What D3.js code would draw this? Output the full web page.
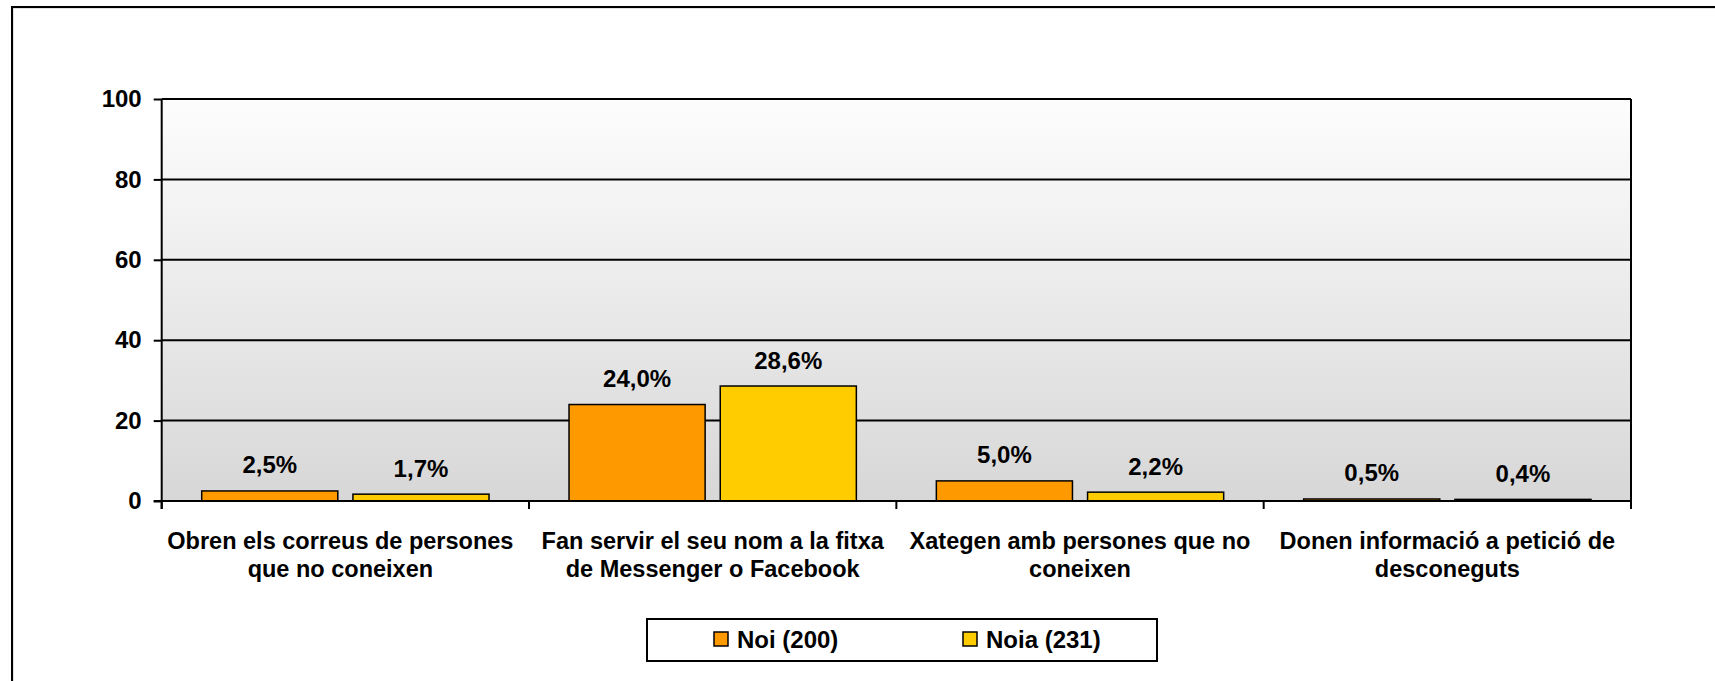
<!DOCTYPE html>
<html>
<head>
<meta charset="utf-8">
<script src="https://cdn.jsdelivr.net/npm/d3@7"></script>
<style>
  body { margin: 0; background: #fff; }
  svg text { font-family: "Liberation Sans", Arial, sans-serif; font-weight: bold; fill: #000; }
</style>
</head>
<body>
<div id="chart"></div>
<script>
// data
var categories = [
  ["Obren els correus de persones", "que no coneixen"],
  ["Fan servir el seu nom a la fitxa", "de Messenger o Facebook"],
  ["Xategen amb persones que no", "coneixen"],
  ["Donen informació a petició de", "desconeguts"]
]
var seriesNames = ["Noi (200)", "Noia (231)"]
var noiValues = [2.5, 24.0, 5.0, 0.5]
var noiaValues = [1.7, 28.6, 2.2, 0.4]
var yTicks = [0, 20, 40, 60, 80, 100]
var colors = ["#FF9900", "#FFCC00"]

var W = 1715, H = 681
var plotLeft = 161.7, plotRight = 1631, plotTop = 99, plotBottom = 501

var svg = d3.select("#chart").append("svg").attr("width", W).attr("height", H)

// outer chart frame (runs off the right and bottom of the window)
svg.append("rect").attr("x", 13).attr("y", 8).attr("width", W + 20).attr("height", H + 20)
  .attr("fill", "none").attr("stroke", "#c8c8c8").attr("stroke-width", 1)
svg.append("rect").attr("x", 12).attr("y", 7).attr("width", W + 20).attr("height", H + 20)
  .attr("fill", "none").attr("stroke", "#000").attr("stroke-width", 2)

// plot background gradient
var grad = svg.append("defs").append("linearGradient").attr("id", "bg")
  .attr("x1", 0).attr("y1", 0).attr("x2", 0).attr("y2", 1)
grad.append("stop").attr("offset", "0%").attr("stop-color", "#fdfdfd")
grad.append("stop").attr("offset", "100%").attr("stop-color", "#d7d7d7")

var x0 = d3.scaleBand().domain(d3.range(categories.length)).range([plotLeft, plotRight]).padding(0)
var x1 = d3.scaleBand().domain(d3.range(seriesNames.length)).range([40, x0.bandwidth() - 40]).paddingInner(0.1)
var y = d3.scaleLinear().domain([0, 100]).range([plotBottom, plotTop])

svg.append("rect").attr("x", plotLeft).attr("y", plotTop).attr("width", plotRight - plotLeft).attr("height", plotBottom - plotTop)
  .attr("fill", "url(#bg)")

// gridlines
svg.append("g").selectAll("line").data(yTicks.filter(function (d) { return d > 0 })).enter().append("line")
  .attr("x1", plotLeft).attr("x2", plotRight)
  .attr("y1", function (d) { return y(d) }).attr("y2", function (d) { return y(d) })
  .attr("stroke", "#000").attr("stroke-width", 2)

// right border
svg.append("line").attr("x1", plotRight).attr("x2", plotRight).attr("y1", plotTop).attr("y2", plotBottom)
  .attr("stroke", "#000").attr("stroke-width", 2)

// bars
var rows = categories.map(function (c, i) { return [noiValues[i], noiaValues[i]] })
var groups = svg.append("g").selectAll("g").data(rows).enter().append("g")
  .attr("transform", function (d, i) { return "translate(" + x0(i) + ",0)" })

groups.selectAll("rect").data(function (d) { return d }).enter().append("rect")
  .attr("x", function (d, j) { return x1(j) })
  .attr("width", x1.bandwidth())
  .attr("y", function (d) { return y(d) })
  .attr("height", function (d) { return y(0) - y(d) })
  .attr("fill", function (d, j) { return colors[j] })
  .attr("stroke", "#000").attr("stroke-width", 1.5)

var f = d3.format(".1f")
groups.selectAll("text").data(function (d) { return d }).enter().append("text")
  .attr("x", function (d, j) { return x1(j) + x1.bandwidth() / 2 })
  .attr("y", function (d) { return y(d) - 17.5 })
  .attr("text-anchor", "middle").style("font-size", "24px")
  .text(function (d) { return f(d).replace(".", ",") + "%" })

// y axis
var yAxis = svg.append("g").attr("transform", "translate(" + plotLeft + ",0)")
  .call(d3.axisLeft(y).tickValues(yTicks).tickSize(8).tickPadding(12).tickFormat(d3.format("d")))
yAxis.select(".domain").remove()
yAxis.selectAll(".tick line").attr("stroke", "#000").attr("stroke-width", 2)
yAxis.selectAll("text").style("font-size", "24px").attr("font-family", null)
svg.append("line").attr("x1", plotLeft).attr("x2", plotLeft).attr("y1", plotTop).attr("y2", plotBottom + 8)
  .attr("stroke", "#000").attr("stroke-width", 2)

// x axis
svg.append("line").attr("x1", plotLeft - 8).attr("x2", plotRight).attr("y1", plotBottom).attr("y2", plotBottom)
  .attr("stroke", "#000").attr("stroke-width", 2)
svg.append("g").selectAll("line").data(d3.range(categories.length + 1)).enter().append("line")
  .attr("x1", function (i) { return i < categories.length ? x0(i) : plotRight })
  .attr("x2", function (i) { return i < categories.length ? x0(i) : plotRight })
  .attr("y1", plotBottom).attr("y2", plotBottom + 8)
  .attr("stroke", "#000").attr("stroke-width", 2)

var catLabels = svg.append("g").selectAll("text").data(categories).enter().append("text")
  .attr("text-anchor", "middle").style("font-size", "23.5px")
  .attr("transform", function (d, i) { return "translate(" + (x0(i) + x0.bandwidth() / 2 - (i == 0 ? 5 : 0)) + ",0)" })
catLabels.selectAll("tspan").data(function (d) { return d }).enter().append("tspan")
  .attr("x", 0).attr("y", function (d, k) { return 549 + k * 28 })
  .text(function (d) { return d })

// legend
svg.append("rect").attr("x", 647).attr("y", 619).attr("width", 510).attr("height", 42)
  .attr("fill", "#fff").attr("stroke", "#000").attr("stroke-width", 2)
var leg = svg.append("g").selectAll("g").data(seriesNames).enter().append("g")
  .attr("transform", function (d, i) { return "translate(" + (714 + i * 249) + ",632)" })
leg.append("rect").attr("width", 14).attr("height", 14)
  .attr("fill", function (d, i) { return colors[i] }).attr("stroke", "#000").attr("stroke-width", 1.5)
leg.append("text").attr("x", 23).attr("y", 16).style("font-size", "24px").text(function (d) { return d })
</script>
</body>
</html>
